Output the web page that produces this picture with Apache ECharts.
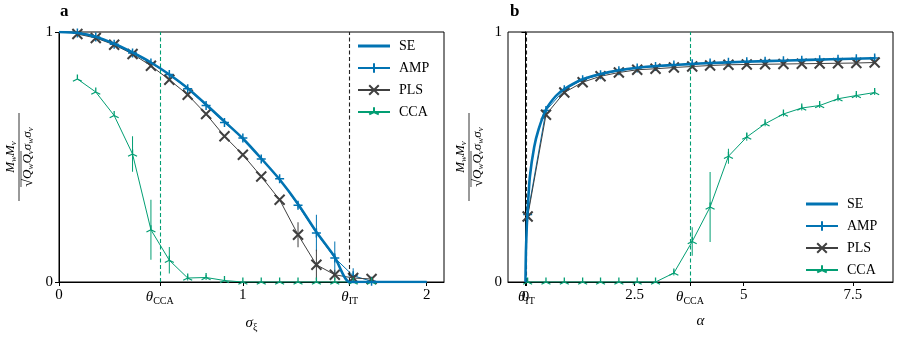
<!DOCTYPE html>
<html>
<head>
<meta charset="utf-8">
<script src="https://cdn.jsdelivr.net/npm/echarts@6/dist/echarts.min.js"></script>
<style>
html, body { margin: 0; padding: 0; background: #fff; }
#chart { width: 900px; height: 339px; }
</style>
</head>
<body>
<div id="chart"></div>
<script>
// ---- panel a: overlap vs sigma_xi ----
const sigmaX = [0.1, 0.2, 0.3, 0.4, 0.5, 0.6, 0.7, 0.8, 0.9, 1.0, 1.1, 1.2, 1.3, 1.4, 1.5, 1.6, 1.7];
const ampA = [0.996, 0.98, 0.951, 0.916, 0.876, 0.83, 0.773, 0.706, 0.638, 0.576, 0.492, 0.413, 0.307, 0.196, 0.096, 0.025, 0.003];
const ampAErr = [0, 0, 0, 0, 0, 0, 0, 0, 0, 0, 0, 0, 0.01, 0.073, 0.066, 0.03, 0.01];
const plsA = [0.992, 0.976, 0.949, 0.912, 0.865, 0.809, 0.749, 0.672, 0.583, 0.509, 0.422, 0.329, 0.189, 0.069, 0.029, 0.016, 0.012];
const plsAErr = [0, 0, 0, 0, 0, 0, 0, 0, 0, 0, 0, 0, 0.05, 0.06, 0.02, 0.01, 0];
const ccaA = [0.812, 0.76, 0.666, 0.512, 0.209, 0.087, 0.016, 0.018, 0.006, 0, 0, 0, 0, 0, 0, 0, 0];
const ccaAErr = [0, 0, 0, 0.071, 0.12, 0.053, 0.01, 0.01, 0, 0, 0, 0, 0, 0, 0, 0, 0];
const seAX = [0, 0.1, 0.2, 0.3, 0.4, 0.5, 0.6, 0.7, 0.8, 0.9, 1.0, 1.1, 1.2, 1.3, 1.4, 1.5, 1.58, 2.0];
const seAY = [1, 0.996, 0.981, 0.953, 0.918, 0.878, 0.83, 0.775, 0.71, 0.642, 0.574, 0.494, 0.41, 0.312, 0.2, 0.1, 0, 0];
const thetaCCAa = 0.548;
const thetaITa = 1.581;
const ticksA = [0, thetaCCAa, 1, thetaITa, 2];
const tickLabelsA = ['0', '{t|θ}{s|CCA}', '1', '{t|θ}{s|IT}', '2'];

// ---- panel b: overlap vs alpha ----
const alphaX = [0.05, 0.47, 0.89, 1.31, 1.72, 2.14, 2.56, 2.98, 3.40, 3.82, 4.23, 4.65, 5.07, 5.49, 5.91, 6.33, 6.74, 7.16, 7.58, 8.00];
const ampB = [0.27, 0.686, 0.769, 0.809, 0.829, 0.845, 0.856, 0.862, 0.868, 0.873, 0.876, 0.879, 0.881, 0.883, 0.885, 0.887, 0.889, 0.891, 0.893, 0.896];
const ampBErr = [0.01, 0.01, 0.01, 0.01, 0.01, 0.01, 0.01, 0.01, 0.01, 0.01, 0.01, 0.01, 0.01, 0.01, 0.01, 0.01, 0.01, 0.01, 0.01, 0.012];
const plsB = [0.262, 0.669, 0.758, 0.799, 0.823, 0.838, 0.849, 0.853, 0.858, 0.862, 0.866, 0.869, 0.870, 0.871, 0.872, 0.873, 0.874, 0.875, 0.876, 0.878];
const plsBErr = [0.02, 0.01, 0, 0, 0, 0, 0, 0, 0, 0, 0, 0, 0, 0, 0, 0, 0, 0, 0, 0];
const ccaB = [0, 0, 0, 0, 0, 0, 0, 0, 0.036, 0.162, 0.30, 0.503, 0.58, 0.633, 0.672, 0.696, 0.706, 0.733, 0.746, 0.758];
const ccaBErr = [0, 0, 0, 0, 0, 0, 0, 0, 0.01, 0.057, 0.14, 0.03, 0.015, 0.01, 0.01, 0.01, 0.01, 0.01, 0.01, 0.01];
const seBX = [0, 0.01, 0.03, 0.05, 0.1, 0.2, 0.3, 0.47, 0.7, 0.89, 1.31, 1.72, 2.14, 2.56, 3, 3.5, 4, 5, 6, 7, 8];
const seBY = [0, 0.12, 0.22, 0.29, 0.42, 0.54, 0.61, 0.69, 0.745, 0.772, 0.811, 0.832, 0.847, 0.857, 0.864, 0.869, 0.874, 0.881, 0.886, 0.891, 0.895];
const thetaITb = 0.02;
const thetaCCAb = 3.77;
const ticksB = [thetaITb, 2.5, thetaCCAb, 5, 7.5];
const tickLabelsB = ['{t|θ}{s|IT}', '2.5', '{t|θ}{s|CCA}', '5', '7.5'];
// the plain "0" tick of panel b sits under the θIT label, drawn on its own axis
const zeroTickB = [0];
const zeroLabelB = ['0'];

const FONT = '"Liberation Serif", "DejaVu Serif", serif';
const BLUE = '#0173B2';
const GRAY = '#404040';
const GREEN = '#029E73';

const plusSym = 'path://M5,0 L5,10 M0,5 L10,5';
const crossSym = 'path://M0,0 L10,10 M10,0 L0,10';
const triSym = 'path://M5,5 L5,0 M5,5 L0.67,7.5 M5,5 L9.33,7.5 M5,10 L5,10';
const seIcon = 'path://M0,0 L32,0 L32,3 L0,3 Z';

const legendNames = [{ name: 'SE', icon: seIcon }, 'AMP', 'PLS', 'CCA'];

const richSub = {
  t: { fontFamily: FONT, fontSize: 15, fontStyle: 'italic', color: '#000' },
  s: { fontFamily: FONT, fontSize: 10, color: '#000', verticalAlign: 'bottom', padding: [8, 0, 0, 0] }
};

function zip(xs, ys) {
  return xs.map((x, i) => [x, ys[i]]);
}

function pointSeries(name, xs, ys, color, sym, size, bw, gi) {
  return {
    type: 'line', name: name, xAxisIndex: gi, yAxisIndex: gi,
    data: zip(xs, ys),
    symbol: sym, symbolSize: size,
    lineStyle: { color: color, width: 1 },
    itemStyle: { color: color, borderColor: color, borderWidth: bw },
    z: 4, clip: true
  };
}

function errorSeries(xs, ys, es, color, gi) {
  return {
    type: 'custom', xAxisIndex: gi, yAxisIndex: gi, silent: true, z: 3,
    data: xs.map((x, i) => [x, ys[i], es[i]]),
    encode: { x: 0, y: 1 },
    renderItem: function (params, api) {
      const p0 = api.coord([api.value(0), api.value(1) - api.value(2)]);
      const p1 = api.coord([api.value(0), api.value(1) + api.value(2)]);
      return {
        type: 'line',
        shape: { x1: p0[0], y1: p0[1], x2: p1[0], y2: p1[1] },
        style: { stroke: color, lineWidth: 1 }
      };
    }
  };
}

function seSeries(xs, ys, gi, itX, ccaX) {
  return {
    type: 'line', name: 'SE', xAxisIndex: gi, yAxisIndex: gi,
    data: zip(xs, ys), symbol: 'none', smooth: 0.2,
    lineStyle: { color: BLUE, width: 2.6 },
    itemStyle: { color: BLUE },
    z: 5,
    markLine: {
      silent: true, symbol: 'none', label: { show: false }, animation: false,
      data: [
        { xAxis: itX, lineStyle: { color: '#222', type: [4, 2.5], width: 1.1 } },
        { xAxis: ccaX, lineStyle: { color: GREEN, type: [4, 2.5], width: 1.1 } }
      ]
    }
  };
}

function xAxisFor(gi, min, max, ticks, labels, name) {
  return {
    gridIndex: gi, type: 'value', min: min, max: max, position: 'bottom',
    axisLine: { onZero: false, lineStyle: { color: '#000', width: 1 } },
    axisTick: { show: true, customValues: ticks, length: 4, lineStyle: { color: '#000' } },
    axisLabel: {
      customValues: ticks, margin: 6, hideOverlap: false,
      fontFamily: FONT, fontSize: 15, color: '#000',
      formatter: function (v) {
        const i = ticks.findIndex(t => Math.abs(t - v) < 1e-9);
        return i >= 0 ? labels[i] : '';
      },
      rich: richSub
    },
    splitLine: { show: false },
    name: name, nameLocation: 'middle', nameGap: 32,
    nameTextStyle: { fontFamily: FONT, fontSize: 15, color: '#000', rich: richSub }
  };
}

function yAxisFor(gi) {
  return {
    gridIndex: gi, type: 'value', min: 0, max: 1, interval: 1,
    axisLine: { lineStyle: { color: '#000', width: 1 } },
    axisTick: { show: true, length: 4, lineStyle: { color: '#000' } },
    axisLabel: { fontFamily: FONT, fontSize: 15, color: '#000', margin: 6 },
    splitLine: { show: false }
  };
}

function yLabel(cx) {
  const sub = { font: 'italic 9px ' + FONT, verticalAlign: 'bottom', padding: [6, 0, 0, 0] };
  const it = { font: 'italic 13px ' + FONT };
  return {
    type: 'group', x: cx, y: 157, rotation: Math.PI / 2,
    children: [
      { type: 'text', x: 0, y: -8, style: { text: '{i|M}{s|w}{i|M}{s|v}', font: 'italic 13px ' + FONT, rich: { i: it, s: sub }, align: 'center', verticalAlign: 'middle', fill: '#000' } },
      { type: 'line', shape: { x1: -44, y1: 0, x2: 44, y2: 0 }, style: { stroke: '#000', lineWidth: 0.8 } },
      { type: 'text', x: 0, y: 9, style: { text: '{r|√}{i|Q}{s|w}{i|Q}{s|v}{i|σ}{s|w}{i|σ}{s|v}', font: 'italic 13px ' + FONT, rich: { r: { font: '14px ' + FONT }, i: it, s: sub }, align: 'center', verticalAlign: 'middle', fill: '#000' } },
      { type: 'line', shape: { x1: -30, y1: 2, x2: 6, y2: 2 }, style: { stroke: '#000', lineWidth: 0.7 } }
    ]
  };
}

function legendFor(left, top) {
  return {
    data: legendNames, left: left, top: top, orient: 'vertical',
    itemWidth: 32, itemHeight: 12, itemGap: 8, selectedMode: false,
    textStyle: { fontFamily: FONT, fontSize: 14, color: '#000', padding: [0, 0, 0, 4] }
  };
}

const zeroAxisB = xAxisFor(1, -0.4, 8.42, zeroTickB, zeroLabelB, '');
zeroAxisB.axisLine = { show: false, onZero: false };
zeroAxisB.axisLabel.margin = 8;

const chart = echarts.init(document.getElementById('chart'));
chart.setOption({
  animation: false,
  grid: [
    { left: 59, top: 32, width: 385, height: 250, show: true, borderColor: '#000', borderWidth: 1 },
    { left: 508, top: 32, width: 385, height: 250, show: true, borderColor: '#000', borderWidth: 1 }
  ],
  xAxis: [
    xAxisFor(0, 0, 2.094, ticksA, tickLabelsA, '{t|σ}{s|ξ}'),
    xAxisFor(1, -0.4, 8.42, ticksB, tickLabelsB, '{t|α}'),
    zeroAxisB
  ],
  yAxis: [yAxisFor(0), yAxisFor(1)],
  legend: [legendFor(352, 34), legendFor(800, 192)],
  graphic: [
    { type: 'text', left: 60, top: 3, style: { text: 'a', font: 'bold 17px ' + FONT, fill: '#000' } },
    { type: 'text', left: 510, top: 3, style: { text: 'b', font: 'bold 17px ' + FONT, fill: '#000' } },
    yLabel(19),
    yLabel(469)
  ],
  series: [
    seSeries(seAX, seAY, 0, thetaITa, thetaCCAa),
    pointSeries('AMP', sigmaX, ampA, BLUE, plusSym, 9, 1.5, 0),
    pointSeries('PLS', sigmaX, plsA, GRAY, crossSym, 10, 2, 0),
    pointSeries('CCA', sigmaX, ccaA, GREEN, triSym, 9, 1.3, 0),
    errorSeries(sigmaX, ampA, ampAErr, BLUE, 0),
    errorSeries(sigmaX, plsA, plsAErr, GRAY, 0),
    errorSeries(sigmaX, ccaA, ccaAErr, GREEN, 0),

    seSeries(seBX, seBY, 1, thetaITb, thetaCCAb),
    pointSeries('AMP', alphaX, ampB, BLUE, plusSym, 9, 1.5, 1),
    pointSeries('PLS', alphaX, plsB, GRAY, crossSym, 10, 2, 1),
    pointSeries('CCA', alphaX, ccaB, GREEN, triSym, 9, 1.3, 1),
    errorSeries(alphaX, ampB, ampBErr, BLUE, 1),
    errorSeries(alphaX, plsB, plsBErr, GRAY, 1),
    errorSeries(alphaX, ccaB, ccaBErr, GREEN, 1)
  ]
});
</script>
</body>
</html>
